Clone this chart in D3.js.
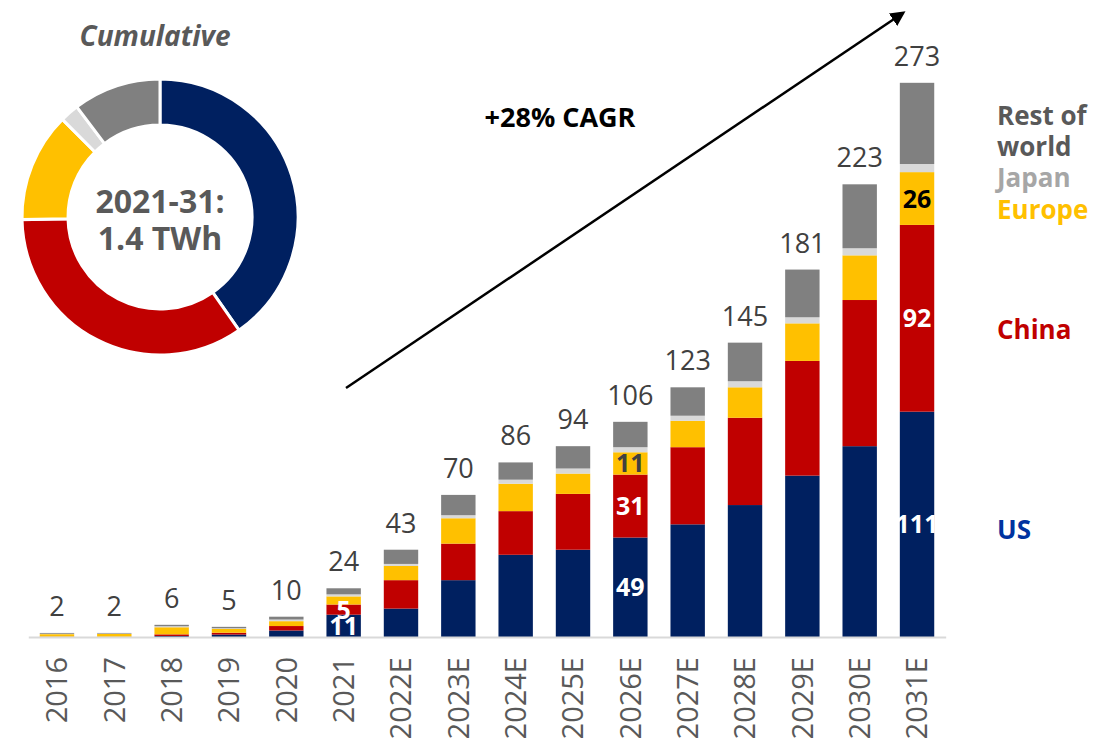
<!DOCTYPE html>
<html>
<head>
<meta charset="utf-8">
<script src="https://cdn.jsdelivr.net/npm/d3@7"></script>
<style>
  body { margin: 0; background: #fff; }
  svg { font-family: "Open Sans", "Noto Sans", sans-serif; }
</style>
</head>
<body>
<div id="chart"></div>
<script>
const years = ["2016", "2017", "2018", "2019", "2020", "2021", "2022E", "2023E",
               "2024E", "2025E", "2026E", "2027E", "2028E", "2029E", "2030E", "2031E"];
const usValues     = [0.05, 0.05, 0.5, 1.2, 3.2, 11, 14, 28, 40.5, 43, 49, 55.5, 65, 79.5, 94, 111];
const chinaValues  = [0.1, 0.05, 0.8, 0.9, 2.2, 5, 14, 18, 21.5, 27.5, 31, 38, 43, 56.5, 72, 92];
const europeValues = [1.25, 1.4, 3.5, 1.9, 2.4, 4, 7, 12.5, 13.5, 10, 11, 13, 15, 18.5, 22, 26];
const japanValues  = [0.2, 0.2, 0.5, 0.3, 0.8, 1, 1, 1.5, 2, 2.5, 2.5, 2.5, 3, 3, 3.5, 4];
const rowValues    = [0.4, 0.3, 0.7, 0.7, 1.4, 3, 7, 10, 8.5, 11, 12.5, 14, 19, 23.5, 31.5, 40];
const totals       = [2, 2, 6, 5, 10, 24, 43, 70, 86, 94, 106, 123, 145, 181, 223, 273];

const regions = ["US", "China", "Europe", "Japan", "Rest of world"];
const colors  = ["#002060", "#C00000", "#FFC000", "#D9D9D9", "#808080"];

// cumulative 2021-31 split (share of 1.4 TWh)
const cumulativeShares = [40.3, 34.4, 12.8, 2.2, 10.3];

// labels printed inside the bars: [year, region, text, colour]
const insideLabels = [
  ["2021", "US", "11", "#fff"], ["2021", "China", "5", "#fff"],
  ["2026E", "US", "49", "#fff"], ["2026E", "China", "31", "#fff"], ["2026E", "Europe", "11", "#404040"],
  ["2031E", "US", "111", "#fff"], ["2031E", "China", "92", "#fff"], ["2031E", "Europe", "26", "#000"]
];

const legendItems = [
  { lines: ["Rest of", "world"], color: "#595959" },
  { lines: ["Japan"], color: "#A6A6A6" },
  { lines: ["Europe"], color: "#FFC000" },
  { lines: ["China"], color: "#C00000" },
  { lines: ["US"], color: "#0033A0" }
];
const legendY = [125, 187, 219, 339, 539];

const width = 1116;
const height = 739;

const svg = d3.select("#chart").append("svg")
  .attr("width", width)
  .attr("height", height);

const table = years.map((y, i) => ({
  year: y,
  "US": usValues[i],
  "China": chinaValues[i],
  "Europe": europeValues[i],
  "Japan": japanValues[i],
  "Rest of world": rowValues[i],
  total: totals[i]
}));

const xScale = d3.scaleBand()
  .domain(years)
  .range([28.3, 945.7])
  .paddingInner(0.4)
  .paddingOuter(0.2);

const yScale = d3.scaleLinear()
  .domain([0, 300])
  .range([637, 28]);

const stack = d3.stack().keys(regions)(table);
const colorScale = d3.scaleOrdinal().domain(regions).range(colors);

svg.append("g")
  .selectAll("g")
  .data(stack)
  .join("g")
  .attr("fill", d => colorScale(d.key))
  .selectAll("rect")
  .data(d => d)
  .join("rect")
  .attr("x", d => xScale(d.data.year))
  .attr("width", xScale.bandwidth())
  .attr("y", d => yScale(d[1]))
  .attr("height", d => yScale(d[0]) - yScale(d[1]));

// x axis
const xAxis = svg.append("g")
  .attr("transform", `translate(0, ${yScale(0)})`)
  .call(d3.axisBottom(xScale).tickSize(0));
xAxis.select(".domain").attr("stroke", "#D9D9D9").attr("stroke-width", 2);
xAxis.selectAll("text")
  .attr("transform", "rotate(-90)")
  .attr("x", -20)
  .attr("y", 0)
  .attr("dy", "0.36em")
  .attr("text-anchor", "end")
  .attr("fill", "#595959")
  .style("font-size", "29px")
  .style("font-family", "'Open Sans', sans-serif");

// totals
svg.append("g")
  .selectAll("text")
  .data(table)
  .join("text")
  .attr("x", d => xScale(d.year) + xScale.bandwidth() / 2)
  .attr("y", d => yScale(d.total) - 17)
  .attr("text-anchor", "middle")
  .attr("fill", "#404040")
  .style("font-size", "27px")
  .text(d => d.total);

// labels inside segments
const stackByKey = Object.fromEntries(stack.map(s => [s.key, s]));
svg.append("g")
  .selectAll("text")
  .data(insideLabels)
  .join("text")
  .attr("x", d => xScale(d[0]) + xScale.bandwidth() / 2)
  .attr("y", d => {
    const seg = stackByKey[d[1]][years.indexOf(d[0])];
    return (yScale(seg[0]) + yScale(seg[1])) / 2;
  })
  .attr("dy", "0.36em")
  .attr("text-anchor", "middle")
  .attr("fill", d => d[3])
  .style("font-size", "25px")
  .style("font-weight", "bold")
  .text(d => d[2]);

// legend on the right
const legend = svg.append("g");
legendItems.forEach((item, i) => {
  const t = legend.append("text")
    .attr("x", 997)
    .attr("y", legendY[i])
    .attr("fill", item.color)
    .style("font-size", "26px")
    .style("font-weight", "bold");
  item.lines.forEach((line, j) => {
    t.append("tspan").attr("x", 997).attr("dy", j === 0 ? 0 : 31).text(line);
  });
});

// growth arrow
svg.append("defs").append("marker")
  .attr("id", "arrowhead")
  .attr("viewBox", "0 0 10 10")
  .attr("refX", 8)
  .attr("refY", 5)
  .attr("markerWidth", 6)
  .attr("markerHeight", 6)
  .attr("orient", "auto")
  .append("path")
  .attr("d", "M0,0 L10,5 L0,10 z")
  .attr("fill", "#000");

svg.append("line")
  .attr("x1", 346).attr("y1", 388)
  .attr("x2", 903).attr("y2", 13)
  .attr("stroke", "#000")
  .attr("stroke-width", 2.5)
  .attr("marker-end", "url(#arrowhead)");

svg.append("text")
  .attr("x", 560)
  .attr("y", 127)
  .attr("text-anchor", "middle")
  .attr("fill", "#000")
  .style("font-size", "27px")
  .style("font-weight", "bold")
  .text("+28% CAGR");

// cumulative donut
const donut = svg.append("g").attr("transform", "translate(160, 217)");
const pie = d3.pie().sort(null).value(d => d);
const arc = d3.arc().innerRadius(92).outerRadius(138);

donut.selectAll("path")
  .data(pie(cumulativeShares))
  .join("path")
  .attr("d", arc)
  .attr("fill", (d, i) => colors[i])
  .attr("stroke", "#fff")
  .attr("stroke-width", 3);

donut.append("text")
  .attr("y", -4)
  .attr("text-anchor", "middle")
  .attr("fill", "#595959")
  .style("font-size", "32px")
  .style("font-weight", "bold")
  .text("2021-31:");
donut.append("text")
  .attr("y", 33)
  .attr("text-anchor", "middle")
  .attr("fill", "#595959")
  .style("font-size", "32px")
  .style("font-weight", "bold")
  .text("1.4 TWh");

svg.append("text")
  .attr("x", 155)
  .attr("y", 46)
  .attr("text-anchor", "middle")
  .attr("fill", "#595959")
  .style("font-size", "28px")
  .style("font-weight", "bold")
  .style("font-style", "italic")
  .text("Cumulative");
</script>
</body>
</html>
